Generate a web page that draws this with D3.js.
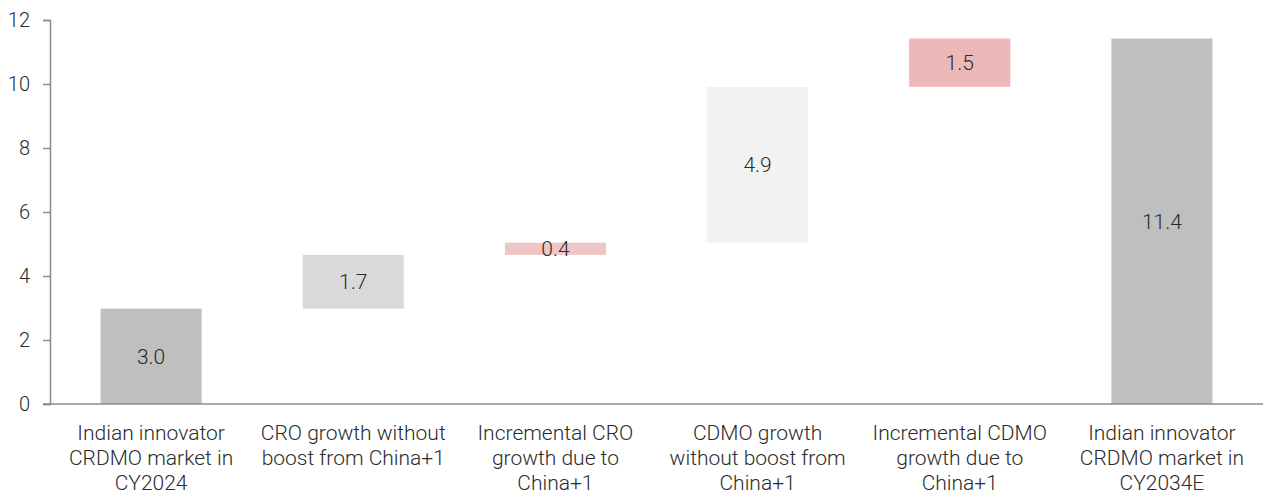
<!DOCTYPE html>
<html>
<head>
<meta charset="utf-8">
<script src="https://cdn.jsdelivr.net/npm/d3@7"></script>
<style>
  body { margin: 0; background: #fff; }
  svg text { font-family: Roboto, "Noto Sans", sans-serif; font-weight: 300; fill: #2b2b2b; }
</style>
</head>
<body>
<svg width="1263" height="495"></svg>
<script>
// categories, one entry per line of the wrapped label
var categories = [
  ["Indian innovator", "CRDMO market in", "CY2024"],
  ["CRO growth without", "boost from China+1"],
  ["Incremental CRO", "growth due to", "China+1"],
  ["CDMO growth", "without boost from", "China+1"],
  ["Incremental CDMO", "growth due to", "China+1"],
  ["Indian innovator", "CRDMO market in", "CY2034E"]
];
var values = [2.98, 1.68, 0.38, 4.87, 1.51, 11.42];
var isTotal = [true, false, false, false, false, true];
var colors = ["#bfbfbf", "#d9d9d9", "#efc6c7", "#f2f2f2", "#ecb8b8", "#bfbfbf"];
var yTicks = [0, 2, 4, 6, 8, 10, 12];

function main() {
  var svg = d3.select("svg"),
      left = 50, right = 1263, top = 20, bottom = 404;

  // waterfall: running base for each step
  var run = 0;
  var data = values.map(function(v, i) {
    var d = {i: i, v: v, color: colors[i]};
    if (isTotal[i]) { d.y0 = 0; d.y1 = v; run = v; }
    else { d.y0 = run; d.y1 = run + v; run += v; }
    return d;
  });

  var xScale = d3.scaleBand().domain(d3.range(categories.length)).range([left, right]).paddingInner(0.5).paddingOuter(0.25),
      yScale = d3.scaleLinear().domain([0, 12]).range([bottom, top]);

  // Y axis
  var yAxis = svg.append("g")
    .attr("transform", "translate(" + left + ",0)")
    .call(d3.axisLeft(yScale).tickValues(yTicks).tickSize(7).tickPadding(13));
  yAxis.select(".domain").attr("stroke", "#8c8c8c").attr("stroke-width", 1.5);
  yAxis.selectAll(".tick line").attr("stroke", "#8c8c8c").attr("stroke-width", 1.5);
  yAxis.selectAll(".tick text").attr("font-size", "20px").style("font-family", "Roboto, sans-serif");

  // bars
  svg.selectAll(".bar")
    .data(data)
    .enter().append("rect")
    .attr("class", "bar")
    .attr("x", function(d) { return xScale(d.i); })
    .attr("y", function(d) { return yScale(d.y1); })
    .attr("width", xScale.bandwidth())
    .attr("height", function(d) { return yScale(d.y0) - yScale(d.y1); })
    .attr("fill", function(d) { return d.color; });

  // X axis line (no ticks)
  svg.append("line")
    .attr("x1", left - 7).attr("x2", right)
    .attr("y1", yScale(0)).attr("y2", yScale(0))
    .attr("stroke", "#8c8c8c").attr("stroke-width", 1.5);

  // value labels
  svg.selectAll(".val")
    .data(data)
    .enter().append("text")
    .attr("class", "val")
    .attr("x", function(d) { return xScale(d.i) + xScale.bandwidth() / 2; })
    .attr("y", function(d) { return (yScale(d.y0) + yScale(d.y1)) / 2; })
    .attr("dy", "0.35em")
    .attr("text-anchor", "middle")
    .attr("font-size", "21px")
    .text(function(d) { return d3.format(".1f")(d.v); });

  // category labels
  var cat = svg.selectAll(".cat")
    .data(categories)
    .enter().append("text")
    .attr("class", "cat")
    .attr("text-anchor", "middle")
    .attr("font-size", "21px")
    .attr("transform", function(d, i) { return "translate(" + (xScale(i) + xScale.bandwidth() / 2) + ",440)"; });
  cat.selectAll("tspan")
    .data(function(d) { return d; })
    .enter().append("tspan")
    .attr("x", 0)
    .attr("y", function(d, j) { return j * 25; })
    .text(function(d) { return d; });
}
main();
</script>
</body>
</html>
